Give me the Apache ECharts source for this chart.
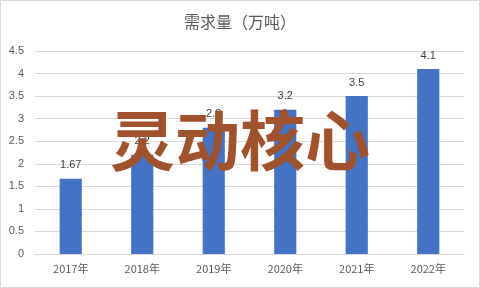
<!DOCTYPE html>
<html><head><meta charset="utf-8">
<script src="https://cdn.jsdelivr.net/npm/echarts@6/dist/echarts.min.js"></script>
<style>html,body{margin:0;padding:0;background:#fff}#c{width:480px;height:288px}</style>
</head><body><div id="c"></div>
<script>
var categories = ['2017年','2018年','2019年','2020年','2021年','2022年'];
var values = [1.67, 2.2, 2.8, 3.2, 3.5, 4.1];
var titleText = '需求量（万吨）';
var watermark = '灵动核心';
var chart = echarts.init(document.getElementById('c'));
chart.setOption({
  animation: false,
  title: {text: titleText, left: 'center', top: 9, textStyle: {fontFamily: 'Noto Sans CJK SC', fontSize: 16, fontWeight: 'normal', color: '#595959'}},
  grid: {left: 35, right: 16, top: 51, bottom: 34},
  xAxis: {type: 'category', data: categories,
    axisLine: {lineStyle: {color: '#d9d9d9'}}, axisTick: {show: false},
    axisLabel: {color: '#595959', fontSize: 11, fontFamily: 'Noto Sans CJK SC', margin: 9}},
  yAxis: {type: 'value', min: 0, max: 4.5, interval: 0.5,
    axisLabel: {color: '#595959', fontSize: 11, fontFamily: 'Liberation Sans', margin: 11},
    splitLine: {lineStyle: {color: '#d9d9d9'}}},
  series: [{type: 'bar', data: values, barWidth: '31%',
    itemStyle: {color: '#4472C4'},
    label: {show: true, position: 'top', color: '#404040', fontSize: 11, fontFamily: 'Liberation Sans', distance: 8}}],
  graphic: [
    {type: 'rect', shape: {x: 0.5, y: 0.5, width: 479, height: 287}, style: {fill: 'none', stroke: '#d9d9d9', lineWidth: 1}, z: 100},
    {type: 'text', left: 'center', top: 108, style: {text: watermark, font: 'bold 65px "Noto Sans CJK SC"', fill: '#A0522D'}, z: 100}
  ]
});
</script></body></html>
